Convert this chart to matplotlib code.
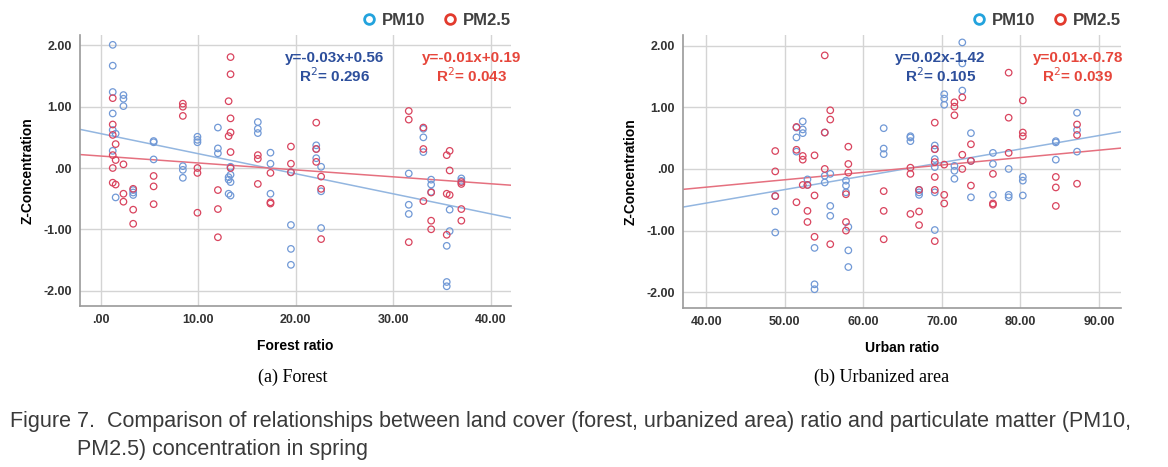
import matplotlib
matplotlib.use("Agg")
import matplotlib.pyplot as plt
from matplotlib.lines import Line2D
from matplotlib.ticker import FuncFormatter, MultipleLocator
import numpy as np

# forest ratio panel
forest_pm10_x = [1.2, 1.2, 1.2, 1.2, 1.2, 1.2, 1.5, 1.5, 2.3, 2.3, 2.3, 3.3, 3.3, 3.3,
                 5.4, 5.4, 5.4, 8.4, 8.4, 8.4, 9.9, 9.9, 9.9, 12.0, 12.0, 12.0,
                 13.1, 13.1, 13.1, 13.3, 13.3, 13.3, 13.3, 16.1, 16.1, 16.1,
                 17.4, 17.4, 17.4, 19.5, 19.5, 19.5, 19.5, 22.1, 22.1, 22.1,
                 22.6, 22.6, 22.6, 31.6, 31.6, 31.6, 33.1, 33.1, 33.1, 33.9, 33.9, 33.9,
                 35.5, 35.5, 35.5, 35.8, 35.8, 37.0, 37.0]
forest_pm10_y = [2.01, 1.67, 1.24, 0.89, 0.62, 0.28, 0.56, -0.48, 1.19, 1.13, 1.01, -0.36, -0.40, -0.44,
                 0.44, 0.42, 0.14, 0.03, -0.03, -0.16, 0.51, 0.46, 0.42, 0.66, 0.32, 0.24,
                 -0.15, -0.19, -0.42, -0.11, -0.23, -0.45, 0.02, 0.75, 0.64, 0.57,
                 0.25, 0.07, -0.42, -0.07, -0.93, -1.32, -1.58, 0.37, 0.31, 0.16,
                 0.02, -0.38, -0.98, -0.09, -0.60, -0.75, 0.64, 0.50, 0.26, -0.19, -0.27, -0.39,
                 -1.27, -1.86, -1.93, -0.68, -1.03, -0.17, -0.21]
forest_pm25_x = [1.2, 1.2, 1.2, 1.2, 1.2, 1.2, 1.5, 1.5, 1.5, 2.3, 2.3, 2.3, 3.3, 3.3, 3.3,
                 5.4, 5.4, 5.4, 8.4, 8.4, 8.4, 9.9, 9.9, 9.9, 12.0, 12.0, 12.0,
                 13.1, 13.1, 13.3, 13.3, 13.3, 13.3, 13.3, 13.3, 16.1, 16.1, 16.1,
                 17.4, 17.4, 17.4, 19.5, 19.5, 19.5, 22.1, 22.1, 22.1, 22.6, 22.6, 22.6,
                 31.6, 31.6, 31.6, 33.1, 33.1, 33.1, 33.9, 33.9, 33.9, 35.5, 35.5, 35.5,
                 35.8, 35.8, 35.8, 37.0, 37.0, 37.0, 37.0]
forest_pm25_y = [1.14, 0.71, 0.54, 0.21, 0.0, -0.24, 0.39, 0.13, -0.27, 0.06, -0.42, -0.55, -0.34, -0.68, -0.91,
                 -0.13, -0.30, -0.59, 1.05, 1.00, 0.85, 0.0, -0.08, -0.73, -0.36, -0.67, -1.13,
                 1.09, 0.52, 1.81, 1.53, 0.81, 0.58, 0.26, 0.0, 0.21, 0.15, -0.26,
                 -0.08, -0.56, -0.58, 0.35, 0.07, -0.07, 0.74, 0.31, 0.10, -0.14, -0.34, -1.16,
                 0.93, 0.79, -1.21, 0.66, 0.31, -0.54, -0.40, -0.86, -1.00, 0.21, -0.42, -1.09,
                 0.28, -0.04, -0.44, -0.23, -0.26, -0.67, -0.86]

# urban ratio panel
urban_pm10_x = [48.8, 48.8, 48.8, 51.5, 51.5, 51.5, 52.3, 52.3, 52.3, 52.9, 52.9,
                53.8, 53.8, 53.8, 55.1, 55.1, 55.1, 55.8, 55.8, 55.8, 57.8, 57.8, 57.8,
                58.1, 58.1, 58.1, 62.6, 62.6, 62.6, 66.0, 66.0, 66.0, 67.1, 67.1, 67.1,
                69.1, 69.1, 69.1, 69.1, 69.1, 69.1, 70.3, 70.3, 70.3, 71.6, 71.6, 71.6,
                72.6, 72.6, 72.6, 73.7, 73.7, 73.7, 76.5, 76.5, 76.5, 78.5, 78.5, 78.5,
                80.3, 80.3, 80.3, 84.5, 84.5, 84.5, 87.2, 87.2, 87.2]
urban_pm10_y = [-0.44, -0.69, -1.03, 0.67, 0.51, 0.28, 0.77, 0.64, 0.58, -0.17, -0.26,
                -1.28, -1.87, -1.95, 0.59, -0.11, -0.22, -0.08, -0.60, -0.76, -0.19, -0.27, -0.38,
                -0.94, -1.32, -1.59, 0.66, 0.33, 0.24, 0.53, 0.51, 0.45, -0.34, -0.38, -0.42,
                0.38, 0.32, 0.16, 0.03, -0.38, -0.99, 1.21, 1.14, 1.04, 0.05, -0.03, -0.16,
                2.05, 1.71, 1.27, 0.58, 0.13, -0.46, 0.26, 0.08, -0.42, 0.0, -0.42, -0.46,
                -0.13, -0.19, -0.43, 0.45, 0.43, 0.15, 0.91, 0.63, 0.28]
urban_pm25_x = [48.8, 48.8, 48.8, 51.5, 51.5, 51.5, 52.3, 52.3, 52.3, 52.9, 52.9, 52.9,
                53.8, 53.8, 53.8, 55.1, 55.1, 55.1, 55.8, 55.8, 55.8, 57.8, 57.8, 57.8,
                58.1, 58.1, 58.1, 62.6, 62.6, 62.6, 66.0, 66.0, 66.0, 67.1, 67.1, 67.1,
                69.1, 69.1, 69.1, 69.1, 69.1, 69.1, 70.3, 70.3, 70.3, 71.6, 71.6, 71.6,
                72.6, 72.6, 72.6, 73.7, 73.7, 73.7, 76.5, 76.5, 76.5, 78.5, 78.5, 78.5,
                80.3, 80.3, 80.3, 84.5, 84.5, 84.5, 87.2, 87.2, 87.2]
urban_pm25_y = [0.29, -0.04, -0.44, 0.68, 0.31, -0.54, 0.21, 0.15, -0.26, -0.26, -0.68, -0.86,
                0.22, -0.43, -1.10, 1.84, 0.59, 0.0, 0.95, 0.80, -1.22, -0.41, -0.86, -1.00,
                0.36, 0.08, -0.06, -0.36, -0.68, -1.14, 0.02, -0.08, -0.73, -0.34, -0.69, -0.91,
                0.75, 0.32, 0.11, -0.13, -0.34, -1.17, 0.07, -0.42, -0.56, 1.08, 1.01, 0.87,
                1.16, 0.23, 0.0, 0.40, 0.13, -0.27, -0.08, -0.56, -0.58, 1.56, 0.83, 0.26,
                1.11, 0.59, 0.53, -0.13, -0.30, -0.60, 0.72, 0.55, -0.24]

# fitted lines as drawn (slope, intercept)
forest_fit_pm10 = (-0.0327, 0.56)
forest_fit_pm25 = (-0.0113, 0.195)
urban_fit_pm10 = (0.0219, -1.43)
urban_fit_pm25 = (0.012, -0.776)

forest_eq = ["y=-0.03x+0.56", "R$^{2}$= 0.296", "y=-0.01x+0.19", "R$^{2}$= 0.043"]
urban_eq = ["y=0.02x-1.42", "R$^{2}$= 0.105", "y=0.01x-0.78", "R$^{2}$= 0.039"]

BLUE_PT = "#7199d6"
RED_PT = "#d9445e"
BLUE_LN = "#93b6e0"
RED_LN = "#e5707f"
BLUE_TXT = "#2d4f9c"
RED_TXT = "#e6463b"
FONT = ["Liberation Sans", "DejaVu Sans"]


def fmt(v, pos):
    s = f"{v:.2f}"
    if s in ("0.00", "-0.00"):
        return ".00"
    return s


def draw_panel(ax, px, py, rx, ry, fit_b, fit_r, xlim, eq, eq_xb, eq_xr, xlabel):
    ax.set_xlim(*xlim)
    ax.set_ylim(-2.25, 2.17)
    ax.xaxis.set_major_locator(MultipleLocator(10))
    ax.yaxis.set_major_locator(MultipleLocator(1))
    ax.xaxis.set_major_formatter(FuncFormatter(fmt))
    ax.yaxis.set_major_formatter(FuncFormatter(fmt))
    ax.grid(True, color="#d4d4d4", linewidth=1.0)
    ax.set_axisbelow(True)
    for side in ("top", "right"):
        ax.spines[side].set_visible(False)
    for side in ("left", "bottom"):
        ax.spines[side].set_color("#9a9a9a")
        ax.spines[side].set_linewidth(1.2)
    ax.tick_params(length=0, pad=6, labelsize=9, labelcolor="#333333")
    for lab in ax.get_xticklabels() + ax.get_yticklabels():
        lab.set_fontweight("bold")
        lab.set_family(FONT)

    xs = np.array(xlim)
    ax.plot(xs, fit_b[0] * xs + fit_b[1], color=BLUE_LN, linewidth=1.1, zorder=2)
    ax.plot(xs, fit_r[0] * xs + fit_r[1], color=RED_LN, linewidth=1.1, zorder=2)
    ax.scatter(px, py, s=22, facecolors="none", edgecolors=BLUE_PT, linewidths=0.9, zorder=3)
    ax.scatter(rx, ry, s=22, facecolors="none", edgecolors=RED_PT, linewidths=0.9, zorder=3)

    ax.set_ylabel("Z-Concentration", fontsize=10, fontweight="bold", family=FONT, labelpad=6)
    ax.set_xlabel(xlabel, fontsize=10, fontweight="bold", family=FONT, labelpad=9)

    txt = dict(fontsize=11, fontweight="bold", family=FONT, ha="center", va="center", zorder=4)
    ax.text(eq_xb, 1.79, eq[0], color=BLUE_TXT, **txt)
    ax.text(eq_xb, 1.51, eq[1], color=BLUE_TXT, **txt)
    ax.text(eq_xr, 1.79, eq[2], color=RED_TXT, **txt)
    ax.text(eq_xr, 1.51, eq[3], color=RED_TXT, **txt)

    handles = [
        Line2D([], [], marker="o", linestyle="none", markersize=7, markerfacecolor="none",
               markeredgecolor="#23a3dd", markeredgewidth=2, label="PM10"),
        Line2D([], [], marker="o", linestyle="none", markersize=7, markerfacecolor="none",
               markeredgecolor="#e23b2e", markeredgewidth=2, label="PM2.5"),
    ]
    leg = ax.legend(handles=handles, loc="center right", bbox_to_anchor=(1.015, 1.055), ncol=2,
                    frameon=False, handletextpad=0.35, columnspacing=1.1, borderaxespad=0.0,
                    handlelength=0.8, prop={"family": FONT, "weight": "bold", "size": 12})
    for t in leg.get_texts():
        t.set_color("#404040")


fig = plt.figure(figsize=(11.68, 4.67), dpi=100)
ax1 = fig.add_axes([0.0685, 0.345, 0.369, 0.58])
ax2 = fig.add_axes([0.5848, 0.341, 0.375, 0.584])

draw_panel(ax1, forest_pm10_x, forest_pm10_y, forest_pm25_x, forest_pm25_y,
           forest_fit_pm10, forest_fit_pm25, (-2.16, 42.1), forest_eq, 24.0, 38.1, "Forest ratio")
draw_panel(ax2, urban_pm10_x, urban_pm10_y, urban_pm25_x, urban_pm25_y,
           urban_fit_pm10, urban_fit_pm25, (37.07, 92.8), urban_eq, 69.8, 87.3, "Urban ratio")

serif = ["Liberation Serif", "DejaVu Serif"]
fig.text(0.251, 1 - 377 / 467, "(a) Forest", ha="center", va="center", fontsize=13, family=serif)
fig.text(0.755, 1 - 377 / 467, "(b) Urbanized area", ha="center", va="center", fontsize=13, family=serif)

cap = dict(ha="left", va="center", fontsize=15.5, color="#3a3a3a", family=FONT)
fig.text(10 / 1168, 1 - 422 / 467,
         "Figure 7.  Comparison of relationships between land cover (forest, urbanized area) ratio and particulate matter (PM10,",
         **cap)
fig.text(77 / 1168, 1 - 450 / 467, "PM2.5) concentration in spring", **cap)

fig.savefig("out.png", dpi=100)
